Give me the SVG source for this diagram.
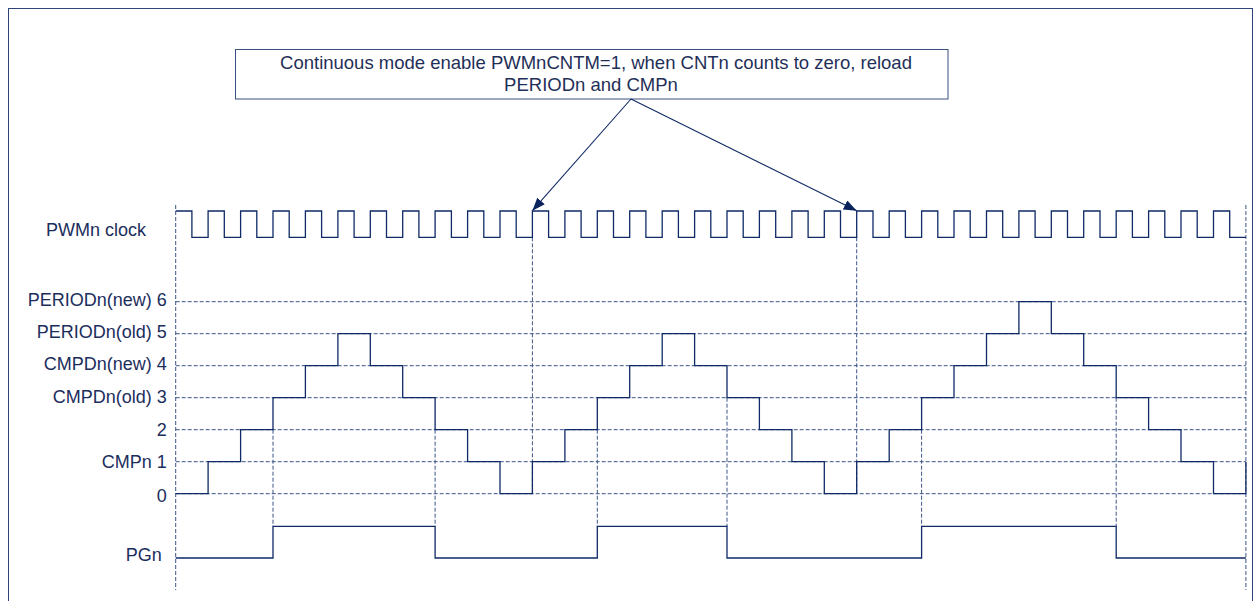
<svg xmlns="http://www.w3.org/2000/svg" width="1255" height="601" viewBox="0 0 1255 601">
  <style>
    .lbl { font-family: "Liberation Sans", Arial, sans-serif; font-size: 18px; fill: #1b2d5c; }
    .call { font-family: "Liberation Sans", Arial, sans-serif; font-size: 18.5px; fill: #1f2f58; text-anchor: middle; }
    .sig { fill: none; stroke: #0f2a66; stroke-width: 1.3; }
    .dash { fill: none; stroke: #3d5488; stroke-width: 1; stroke-dasharray: 4 2; }
    .arr { fill: none; stroke: #0f2a66; stroke-width: 1.1; }
  </style>
  <defs>
    <marker id="ah" markerUnits="userSpaceOnUse" markerWidth="14" markerHeight="12" refX="13" refY="5" orient="auto">
      <path d="M0,0 L13,5 L0,10 Z" fill="#0a235f"/>
    </marker>
  </defs>
  <rect width="1255" height="601" fill="#ffffff"/>
  <g id="frame">
    <rect x="8.5" y="8.5" width="1244" height="600" fill="none" stroke="#2f4478" stroke-width="1"/>
  </g>

  <g id="callout">
    <rect x="235.5" y="49.5" width="712.5" height="49.5" fill="#ffffff" stroke="#3a5080" stroke-width="1"/>
    <text class="call" x="596" y="69">Continuous mode enable PWMnCNTM=1, when CNTn counts to zero, reload</text>
    <text class="call" x="591" y="90.5">PERIODn and CMPn</text>
  </g>

  <g id="labels">
    <text class="lbl" x="46" y="236">PWMn clock</text>
    <text class="lbl" x="166.7" y="305.7" text-anchor="end">PERIODn(new) 6</text>
    <text class="lbl" x="166.7" y="338.3" text-anchor="end">PERIODn(old) 5</text>
    <text class="lbl" x="166.7" y="370" text-anchor="end">CMPDn(new) 4</text>
    <text class="lbl" x="166.7" y="402.7" text-anchor="end">CMPDn(old) 3</text>
    <text class="lbl" x="166.7" y="436" text-anchor="end">2</text>
    <text class="lbl" x="166.7" y="467.7" text-anchor="end">CMPn 1</text>
    <text class="lbl" x="166.7" y="502.3" text-anchor="end">0</text>
    <text class="lbl" x="161.7" y="560.7" text-anchor="end">PGn</text>
  </g>

  <g id="gridlines">
    <path class="dash" d="M175.7,301.7H1245.9 M175.7,333.7H1245.9 M175.7,365.7H1245.9 M175.7,397.7H1245.9 M175.7,429.7H1245.9 M175.7,461.7H1245.9 M175.7,493.7H1245.9"/>
    <path class="dash" d="M175.7,205V590 M1245.9,205V590 M532.4,237.3V493.7 M856.7,237.3V493.7"/>
    <path class="dash" d="M273,429.7V526.3 M435.1,429.7V526.3 M597.3,429.7V526.3 M727,397.7V526.3 M921.6,429.7V526.3 M1116.2,397.7V526.3"/>
  </g>

  <g id="pwm-clock">
    <path class="sig" d="M175.7,211 H191.9 V237.3 H208.1 V211 H224.3 V237.3 H240.6 V211 H256.8 V237.3 H273 V211 H289.2 V237.3 H305.4 V211 H321.6 V237.3 H337.9 V211 H354.1 V237.3 H370.3 V211 H386.5 V237.3 H402.7 V211 H418.9 V237.3 H435.1 V211 H451.4 V237.3 H467.6 V211 H483.8 V237.3 H500 V211 H516.2 V237.3 H532.4 V211 H548.6 V237.3 H564.9 V211 H581.1 V237.3 H597.3 V211 H613.5 V237.3 H629.7 V211 H645.9 V237.3 H662.2 V211 H678.4 V237.3 H694.6 V211 H710.8 V237.3 H727 V211 H743.2 V237.3 H759.4 V211 H775.7 V237.3 H791.9 V211 H808.1 V237.3 H824.3 V211 H840.5 V237.3 H856.7 V211 H873 V237.3 H889.2 V211 H905.4 V237.3 H921.6 V211 H937.8 V237.3 H954 V211 H970.2 V237.3 H986.5 V211 H1002.7 V237.3 H1018.9 V211 H1035.1 V237.3 H1051.3 V211 H1067.5 V237.3 H1083.7 V211 H1100 V237.3 H1116.2 V211 H1132.4 V237.3 H1148.6 V211 H1164.8 V237.3 H1181 V211 H1197.2 V237.3 H1213.5 V211 H1229.7 V237.3 H1245.9"/>
  </g>

  <g id="counter">
    <path class="sig" d="M175.7,493.7 H208.1 V461.7 H240.6 V429.7 H273 V397.7 H305.4 V365.7 H337.9 V333.7 H370.3 V365.7 H402.7 V397.7 H435.1 V429.7 H467.6 V461.7 H500 V493.7 H532.4 V461.7 H564.9 V429.7 H597.3 V397.7 H629.7 V365.7 H662.2 V333.7 H694.6 V365.7 H727 V397.7 H759.4 V429.7 H791.9 V461.7 H824.3 V493.7 H856.7 V461.7 H889.2 V429.7 H921.6 V397.7 H954 V365.7 H986.5 V333.7 H1018.9 V301.7 H1051.3 V333.7 H1083.7 V365.7 H1116.2 V397.7 H1148.6 V429.7 H1181 V461.7 H1213.5 V493.7 H1245.9 V461.7"/>
  </g>

  <g id="pgn">
    <path class="sig" d="M175.7,558 H273 V526.3 H435.1 V558 H597.3 V526.3 H727 V558 H921.6 V526.3 H1116.2 V558 H1245.9"/>
  </g>

  <g id="connectors">
    <line class="arr" x1="631" y1="99" x2="532.4" y2="210.7" marker-end="url(#ah)"/>
    <line class="arr" x1="631" y1="99" x2="856.7" y2="210.7" marker-end="url(#ah)"/>
  </g>
</svg>
